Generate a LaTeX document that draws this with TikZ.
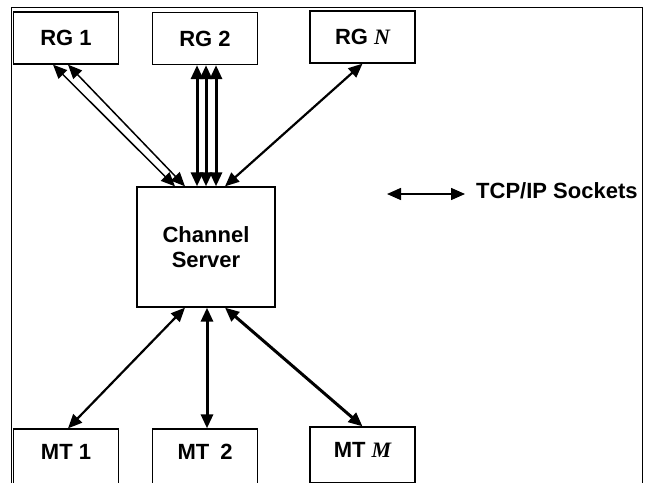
\documentclass[tikz,border=0pt]{standalone}
\usepackage{fontspec}
\setmainfont{Liberation Sans}
\newfontfamily\serifit{Liberation Serif}
\usetikzlibrary{arrows.meta}
\begin{document}
\begin{tikzpicture}[x=1pt,y=-1pt,
  lbl/.style={font=\fontsize{22}{26}\selectfont\bfseries},
  box/.style={draw,line width=1.3pt,inner sep=0pt,lbl,align=center},
  rgbox/.style={box,minimum width=105pt,minimum height=52pt},
  tip/.tip={Triangle[length=14pt,width=12pt]},
  link/.style={tip-tip},
  thin link/.style={link,line width=1.5pt},
  mid link/.style={link,line width=2.2pt},
  thick link/.style={link,line width=3pt}]
\clip (0,0) rectangle (647,482);
\useasboundingbox (0,0) rectangle (647,482);
% outer frame
\draw[line width=1pt] (11,490) -- (11,7) -- (642,7) -- (642,490);
% nodes
\node[rgbox] (rg1) at (66,38) {RG 1};
\node[rgbox] (rg2) at (205,38.5) {RG 2};
\node[rgbox] (rgn) at (362.5,37) {RG {\serifit\bfseries\itshape N}};
\node[box,minimum width=138pt,minimum height=120pt] (cs) at (206,247) {Channel\\[-1pt]Server};
\node[rgbox,minimum height=56pt] (mt1) at (66,457) {};
\node[rgbox,minimum height=56pt] (mt2) at (205,457) {};
\node[rgbox,minimum height=56pt] (mtm) at (362.5,455) {};
\node[lbl] (mt1t) at (66,452) {MT 1};
\node[lbl] (mt2t) at (205,452) {MT\hspace{0.5em}2};
\node[lbl] (mtmt) at (362.5,450) {MT {\serifit\bfseries\itshape M}};
% RG connectors
\draw[thin link] ([xshift=-13pt]rg1.south) -- ([xshift=-31pt]cs.north);
\draw[thin link] ([xshift=2pt]rg1.south) -- ([xshift=-21pt]cs.north);
\draw[thick link] ([xshift=-8pt]rg2.south) -- ([xshift=-9pt]cs.north);
\draw[thick link] ([xshift=1pt]rg2.south) -- ([xshift=0pt]cs.north);
\draw[thick link] ([xshift=11pt]rg2.south) -- ([xshift=10pt]cs.north);
\draw[mid link] (rgn.south) -- ([xshift=19pt]cs.north);
% MT connectors
\draw[mid link] ([xshift=-21pt]cs.south) -- ([xshift=2pt]mt1.north);
\draw[thick link] ([xshift=1pt]cs.south) -- ([xshift=2pt]mt2.north);
\draw[thick link] ([xshift=19pt]cs.south) -- (mtm.north);
% legend
\coordinate (la) at (387,194);
\coordinate (lb) at (465,194);
\draw[thin link] (la) -- (lb);
\node[anchor=west,inner sep=0pt,lbl] (leg) at (476,191) {TCP/IP Sockets};
\end{tikzpicture}
\end{document}
